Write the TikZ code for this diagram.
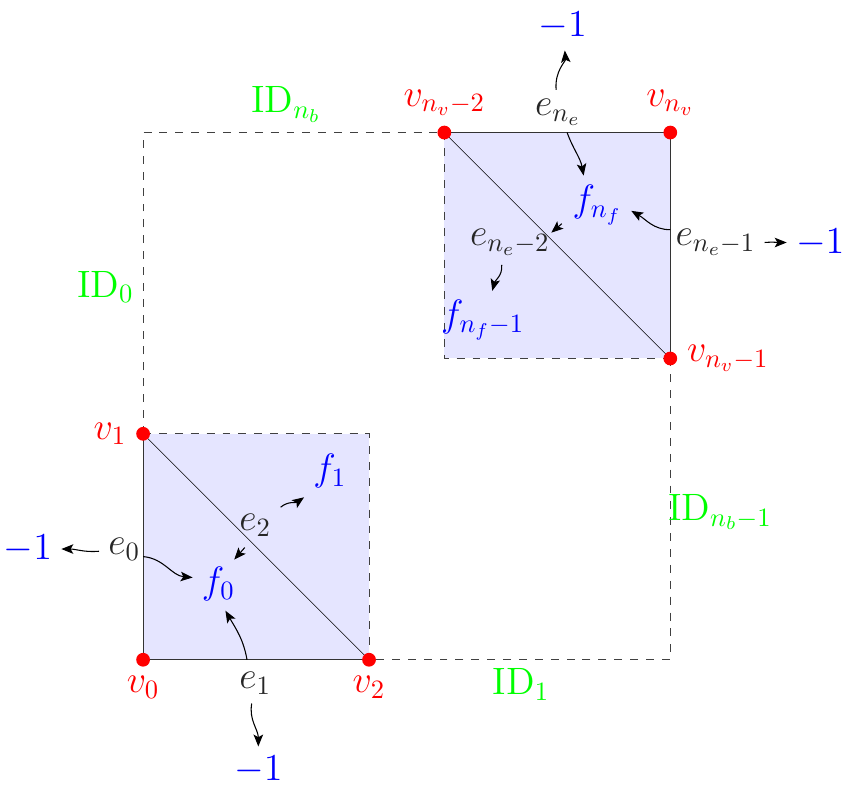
\documentclass[tikz,border=0pt]{standalone}
\usetikzlibrary{arrows.meta}
\begin{document}
\begin{tikzpicture}[font=\Large,
    vert/.style={circle,fill=red,inner sep=0pt,minimum size=5.2pt},
    vlab/.style={text=red},
    elab/.style={text=black!85},
    flab/.style={text=blue},
    idlab/.style={text=green},
    mlab/.style={text=blue},
    bnd/.style={dashed,black!75},
    flow/.style={-{Stealth[length=4.5pt,width=3.6pt,inset=1pt]}}]
  \useasboundingbox (-1.9,-1.69) rectangle (9.28,8.76);
  % the two shaded cells
  \fill[blue!10] (0,0) rectangle (3,3);
  \fill[blue!10] (4,4) rectangle (7,7);
  \draw[bnd] (0,3) -- (0,7) -- (4,7);
  \draw[bnd] (7,4) -- (7,0) -- (3,0);
  \draw[bnd] (0,3) -- (3,3) -- (3,0);
  \draw[bnd] (4,7) -- (4,4) -- (7,4);
  \draw[black!80] (0,3) -- (0,0) -- (3,0);
  \draw[black!80] (4,7) -- (7,7) -- (7,4);
  \draw[very thin] (0,3) -- (3,0);
  \draw[very thin] (4,7) -- (7,4);
  % vertices
  \node[vert,label={[vlab]below:$v_0$}] (v0) at (0,0) {};
  \node[vert,label={[vlab]left:$v_1$}] (v1) at (0,3) {};
  \node[vert,label={[vlab]below:$v_2$}] (v2) at (3,0) {};
  \node[vert,label={[vlab]above:$v_{n_v-2}$}] (vnm2) at (4,7) {};
  \node[vert,label={[vlab]above:$v_{n_v}$}] (vn) at (7,7) {};
  \node[vert,label={[vlab]right:$v_{n_v-1}$}] (vnm1) at (7,4) {};
  % boundary ids
  \node[idlab] (id0) at (-0.5,4.95) {ID$_0$};
  \node[idlab] (id1) at (5.02,-0.33) {ID$_1$};
  \node[idlab] (idnb) at (1.9,7.37) {ID$_{n_b}$};
  \node[idlab] (idnb1) at (7.66,1.96) {ID$_{n_b-1}$};
  % lower cell
  \node[elab] (e0) at (-0.25,1.47) {$e_0$};
  \node[elab] (e1) at (1.49,-0.31) {$e_1$};
  \node[elab] (e2) at (1.49,1.79) {$e_2$};
  \node[flab] (f0) at (1.0,1.0) {$f_0$};
  \node[flab] (f1) at (2.48,2.5) {$f_1$};
  \node[mlab] (m0) at (-1.53,1.47) {$-1$};
  \node[mlab] (m1) at (1.53,-1.46) {$-1$};
  \coordinate (c0) at (0,1.37);
  \coordinate (c1) at (1.38,0);
  \coordinate (c2) at (1.35,1.49);
  \coordinate (c3) at (1.21,1.33);
  \draw[flow] (e0) to[out=185,in=0] (m0);
  \draw[flow] (c0) to[out=-5,in=175] (f0.165);
  \draw[flow] (c1) to[out=100,in=-60] (f0.285);
  \draw[flow] (e1) to[out=-100,in=90] (m1);
  \draw[flow] (c2) -- (c3);
  \draw[flow] (e2.35) to[out=40,in=215] (f1.225);
  % upper cell
  \node[elab] (ene) at (5.51,7.27) {$e_{n_e}$};
  \node[elab] (ene1) at (7.6,5.54) {$e_{n_e-1}$};
  \node[elab] (ene2) at (4.87,5.54) {$e_{n_e-2}$};
  \node[flab] (fnf) at (6.03,6.04) {$f_{n_f}$};
  \node[flab] (fnf1) at (4.51,4.51) {$f_{n_f-1}$};
  \node[mlab,inner sep=1pt] (mne) at (5.57,8.42) {$-1$};
  \node[mlab] (mne1) at (8.99,5.54) {$-1$};
  \coordinate (c4) at (5.63,7);
  \coordinate (c5) at (7,5.71);
  \coordinate (c6) at (5.56,5.79);
  \coordinate (c7) at (5.42,5.67);
  \draw[flow,shorten >=3pt] (ene) to[out=95,in=-85] (mne);
  \draw[flow] (c4) to[out=-70,in=100] (fnf.115);
  \draw[flow] (c5) to[out=180,in=-30] (fnf.-10);
  \draw[flow] (ene1.east) to[out=5,in=180] (mne1.west);
  \draw[flow] (c6) -- (c7);
  \draw[flow] (ene2.250) to[out=-85,in=75] (fnf1.72);
\end{tikzpicture}
\end{document}
